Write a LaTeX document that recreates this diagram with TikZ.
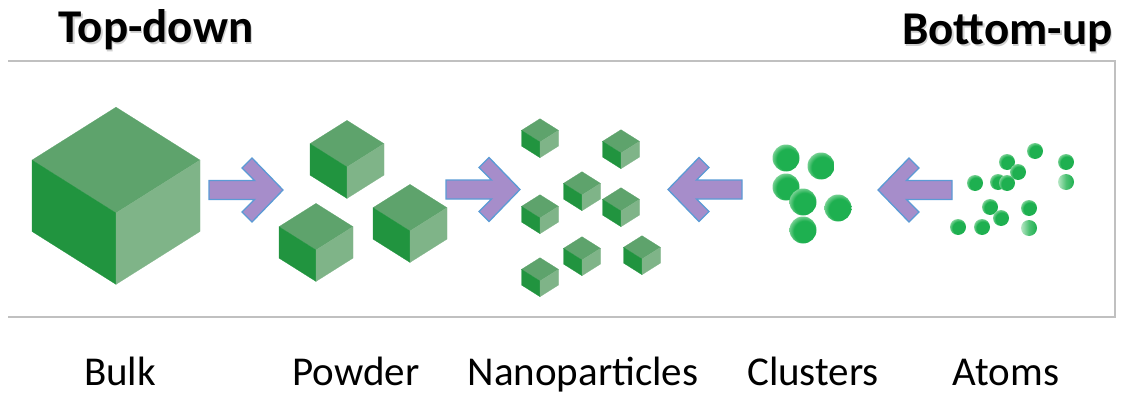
\documentclass[tikz,border=0pt]{standalone}
\usepackage{fontspec}
\setmainfont{Carlito}
\begin{document}
\definecolor{faceleft}{RGB}{33,148,63}
\definecolor{facetop}{RGB}{94,163,108}
\definecolor{faceright}{RGB}{127,180,136}
\definecolor{arrowfill}{RGB}{166,141,202}
\definecolor{arrowline}{RGB}{91,155,213}
\definecolor{framegray}{RGB}{192,192,192}
\definecolor{ballgreen}{RGB}{30,176,80}
\definecolor{balllight}{RGB}{150,220,170}
\pgfdeclareradialshading{sphere}{\pgfpoint{5bp}{-5bp}}{%
  color(0bp)=(ballgreen); color(20bp)=(ballgreen);
  color(31bp)=(balllight); color(50bp)=(balllight)}
% cube drawn from its front-top corner (#1,#2), half width #3
\newcommand\cubeat[3]{%
  \begin{scope}[shift={(#1,#2)},scale=#3]
    \fill[facetop,draw=facetop,line width=0.2pt] (0,0) -- (-1,-0.63) -- (0,-1.26) -- (1,-0.63) -- cycle;
    \fill[faceleft,draw=faceleft,line width=0.2pt] (0,0) -- (-1,-0.63) -- (-1,0.22) -- (0,0.85) -- cycle;
    \fill[faceright,draw=faceright,line width=0.2pt] (0,0) -- (1,-0.63) -- (1,0.22) -- (0,0.85) -- cycle;
  \end{scope}}
% block arrow with its tip at (#1,#2); #3 = 1 points right, -1 points left
\newcommand\blockarrow[3]{%
  \draw[blockarrowstyle,shift={(#1,#2)},xscale=#3]
    (-74,-9.5) -- (-28.5,-9.5) -- (-41,-22) -- (-31,-32) -- (0,0) -- (-31,32)
    -- (-41,22) -- (-28.5,9.5) -- (-74,9.5) -- cycle;}
\newcommand\ballat[3]{\shade[shading=sphere] (#1,#2) circle[radius=#3];}
\newcommand\halfballat[3]{\shade[left color=balllight!70!white,right color=ballgreen,middle color=ballgreen!60!balllight] (#1,#2) circle[radius=#3];}
\begin{tikzpicture}[x=1pt,y=-1pt,
  blockarrowstyle/.style={fill=arrowfill,draw=arrowline,line width=1.3pt,line join=miter},
  title/.style={font=\fontsize{47}{52}\selectfont\bfseries},
  stage/.style={font=\fontsize{41}{46}\selectfont,anchor=base}]
\useasboundingbox (0,0) rectangle (1125,396);
% frame
\draw[framegray,line width=1.2pt] (8,61) -- (1115,61) -- (1115,317) -- (8,317);
% titles with soft shadow
\node[title,anchor=base west,text=black,opacity=0.18] at (56.5,44.5) {Top-down};
\node[title,anchor=base west] (td) at (55,43) {Top-down};
\node[title,anchor=base east,text=black,opacity=0.18] at (1117.5,46.5) {Bottom-up};
\node[title,anchor=base east] (bu) at (1116,45) {Bottom-up};
% bulk
\cubeat{116}{213}{84}
% powder
\cubeat{347}{167}{37}
\cubeat{316}{250}{37}
\cubeat{410}{231}{37}
% nanoparticles
\foreach \x/\y in {540/142,621/153,582/195,540/218,621/211,582/260,642/259,540/281}
  {\cubeat{\x}{\y}{18.5}}
% clusters
\foreach \x/\y in {786/158,821/166,786/187,803/202,838/208,803/230}
  {\ballat{\x}{\y}{13.5}}
% atoms
\foreach \x/\y in {1035/151,1007/162,1066/162,1018/172,975/183,998/182,1007/183,990/207,1029/208,1001/218,958/227,982/227}
  {\ballat{\x}{\y}{8}}
\halfballat{1066}{182}{8}
\halfballat{1029}{228}{8}
% arrows
\blockarrow{283}{190}{1}
\blockarrow{520}{189.5}{1}
\blockarrow{668}{189.5}{-1}
\blockarrow{878}{190}{-1}
% stage labels
\node[stage] (bulk) at (120,385) {Bulk};
\node[stage] (powder) at (356,385) {Powder};
\node[stage] (nano) at (583,385) {Nanoparticles};
\node[stage] (clusters) at (813,385) {Clusters};
\node[stage] (atoms) at (1006,385) {Atoms};
\end{tikzpicture}
\end{document}
